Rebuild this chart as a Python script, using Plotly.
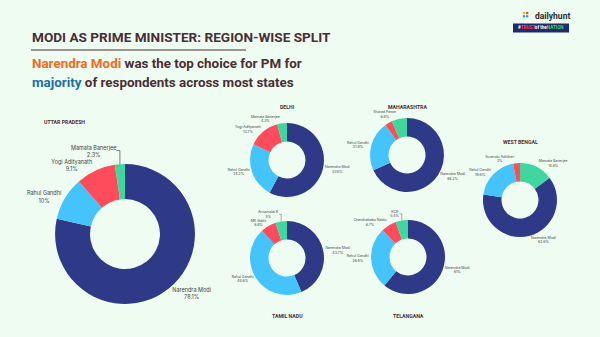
import plotly.graph_objects as go

# ---- data ----
up_names = ["Narendra Modi", "Rahul Gandhi", "Yogi Adityanath", "Mamata Banerjee"]
up_values = [78.1, 10, 9.1, 2.3]

delhi_names = ["Narendra Modi", "Rahul Gandhi", "Yogi Adityanath", "Mamata Banerjee"]
delhi_values = [57.8, 24.2, 13.7, 4.3]

maha_names = ["Narendra Modi", "Rahul Gandhi", "", "Sharad Pawar"]
maha_values = [68.2, 21.9, 3.1, 6.8]

wb_names = ["Mamata Banerjee", "Narendra Modi", "Rahul Gandhi", "Suvendu Adhikari"]
wb_values = [14.8, 62.6, 19.6, 3]

tn_names = ["Narendra Modi", "Rahul Gandhi", "MK Stalin", "Annamalai K"]
tn_values = [43.7, 44.6, 6.8, 5]

tg_names = ["Narendra Modi", "Rahul Gandhi", "Chandrababu Naidu", "KCR"]
tg_values = [61, 26.9, 6.7, 5.4]

NAVY = "#2e3a87"
LBLUE = "#45c3fb"
RED = "#fe4c5c"
GREEN = "#3fd6a0"

std_colors = [NAVY, LBLUE, RED, GREEN]
wb_colors = [GREEN, NAVY, LBLUE, RED]

BG = "#effcf1"
DARK = "#4a2e35"

fig = go.Figure()


def fmt(v):
    return (f"{v:g}") + "%"


def add_pie(names, values, colors, dom_x, dom_y, fs):
    texts = [(f"{n}<br>{fmt(v)}" if n else "") for n, v in zip(names, values)]
    fig.add_trace(go.Pie(
        labels=[n if n else "Other" for n in names],
        values=values,
        text=texts,
        textinfo="text",
        textposition="outside",
        textfont=dict(size=fs, color="#444444", family="Inter, Roboto, sans-serif"),
        marker=dict(colors=colors, line=dict(width=0)),
        hole=0.5,
        sort=False,
        direction="clockwise",
        rotation=0,
        domain=dict(x=dom_x, y=dom_y),
        showlegend=False,
        automargin=False,
        hoverinfo="label+value",
    ))


add_pie(up_names, up_values, std_colors, [0.0917, 0.325], [0.098, 0.513], 5.5)
add_pie(delhi_names, delhi_values, std_colors, [0.4167, 0.54], [0.4154, 0.635], 3.5)
add_pie(maha_names, maha_values, std_colors, [0.6167, 0.74], [0.4303, 0.6499], 3.5)
add_pie(wb_names, wb_values, wb_colors, [0.805, 0.9283], [0.2967, 0.5163], 3.5)
add_pie(tn_names, tn_values, std_colors, [0.4167, 0.54], [0.1246, 0.3442], 3.5)
add_pie(tg_names, tg_values, std_colors, [0.6183, 0.7417], [0.1276, 0.3472], 3.5)

COND = "Roboto, Liberation Sans, sans-serif"

W, H = 600, 337


def px(x):
    return x / W


def py(y):
    return 1 - y / H


annotations = []


def add_text(x, y, text, size, color=DARK, xanchor="left", family=COND, bold=True):
    annotations.append(dict(
        x=px(x), y=py(y), xref="paper", yref="paper",
        text=(f"<b>{text}</b>" if bold else text),
        showarrow=False, xanchor=xanchor, yanchor="middle",
        font=dict(size=size, color=color, family=family),
    ))


add_text(30, 37, "MODI AS PRIME MINISTER: REGION-WISE SPLIT", 13.6)
add_text(30, 63, "<span style='color:#f26b1d'>Narendra Modi</span> was the top choice for PM for", 13.4)
add_text(30, 83, "<span style='color:#1d6fa5'>majority</span> of respondents across most states", 13.4)

add_text(42, 122, "UTTAR PRADESH", 5.2)
add_text(287, 107, "DELHI", 5.2, xanchor="center")
add_text(407, 107, "MAHARASHTRA", 5.2, xanchor="center")
add_text(520, 142, "WEST BENGAL", 5.2, xanchor="center")
add_text(287, 316, "TAMIL NADU", 5.2, xanchor="center")
add_text(408, 316, "TELANGANA", 5.2, xanchor="center")

# logo
add_text(533, 16, "dailyhunt", 8.5, color="#2b2b2b", family="Roboto, sans-serif")
add_text(541, 28, "<span style='color:#ffffff'>#</span><span style='color:#ff3b3b'>TRUST</span>"
         "<span style='color:#ffffff'>of the</span><span style='color:#3fd66a'>NATION</span>",
         4.6, xanchor="center", family="Roboto, sans-serif")

shapes = [
    dict(type="line", xref="paper", yref="paper", x0=px(31), x1=px(246), y0=py(50), y1=py(50),
         line=dict(color=DARK, width=1)),
    dict(type="rect", xref="paper", yref="paper", x0=px(513), x1=px(569), y0=py(32.5), y1=py(23.5),
         fillcolor="#1f2a6b", line=dict(width=0)),
]
# logo dots
dot_cols = ["#f7b500", "#e94235", "#34a853", "#4285f4"]
for i, c in enumerate(dot_cols):
    cx = 524 + (i % 2) * 3.2
    cy = 13 + (i // 2) * 3.2
    shapes.append(dict(type="circle", xref="paper", yref="paper",
                       x0=px(cx - 1.3), x1=px(cx + 1.3), y0=py(cy + 1.3), y1=py(cy - 1.3),
                       fillcolor=c, line=dict(width=0)))

fig.update_layout(
    width=W, height=H,
    margin=dict(l=0, r=0, t=0, b=0),
    paper_bgcolor=BG, plot_bgcolor=BG,
    annotations=annotations,
    shapes=shapes,
)

fig.write_html("out.html", config={"displayModeBar": False})
